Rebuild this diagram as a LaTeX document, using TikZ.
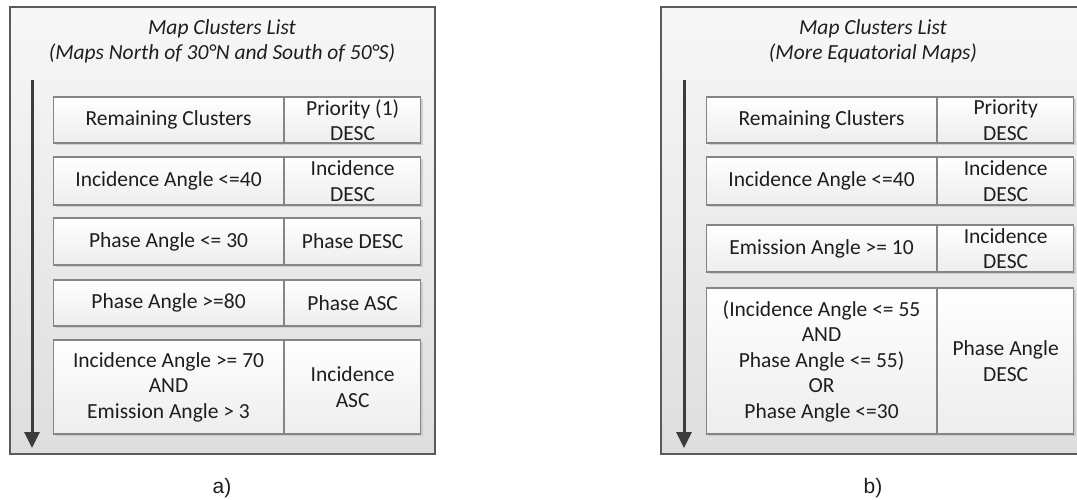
\documentclass[tikz,border=0pt]{standalone}
\usepackage{fontspec}
\setmainfont{Carlito}
\newfontfamily\capfont{Liberation Sans}
\usepackage{tikz}
\usetikzlibrary{positioning,arrows.meta,shadows}
\definecolor{txt}{HTML}{1E1E1E}
\definecolor{rim}{HTML}{858585}
\definecolor{frame}{HTML}{5A5A5A}
\definecolor{shaft}{HTML}{3C3C3C}
\newcommand\bodysize{\fontsize{21.5}{25.5}\selectfont}
\tikzset{
  panel/.style = {draw=frame, line width=1.2pt, top color=black!3,
                  bottom color=black!13, inner sep=0pt},
  cell/.style  = {draw=rim, line width=1.1pt, align=center, text=txt,
                  top color=white, bottom color=black!7, inner sep=0pt,
                  drop shadow={shadow xshift=2pt, shadow yshift=-2pt,
                  fill=black!22, opacity=.8}},
  cond/.style  = {cell, minimum width=230pt, anchor=west},
  ord/.style   = {cell, minimum width=136pt, anchor=west},
  ttl/.style   = {font=\bodysize\itshape, text=txt, align=center},
  flow/.style  = {draw=shaft, line width=3pt,
                  -{Triangle[length=16pt, width=15pt]}},
  sublbl/.style = {font=\capfont\fontsize{21}{25}\selectfont, text=txt},
}
\begin{document}
\begin{tikzpicture}[x=1pt, y=-1pt, font=\bodysize]
\clip (0,0) rectangle (1077,500);

% ===== panel a =====
\node[panel, minimum width=425pt, minimum height=447pt] (pa) at (222.5,230.5) {};
\node[ttl] (ta) at (222,41.5) {Map Clusters List\\(Maps North of 30°N and South of 50°S)};

\node[cond, minimum height=46pt] (a1) at (53,120) {Remaining Clusters};
\node[ord,  minimum height=46pt] (a1o) at (a1.east) {Priority (1)\\DESC};
\node[cond, minimum height=48pt] (a2) at (53,181) {Incidence Angle <=40};
\node[ord,  minimum height=48pt] (a2o) at (a2.east) {Incidence\\DESC};
\node[cond, minimum height=47pt] (a3) at (53,241.5) {Phase Angle <= 30};
\node[ord,  minimum height=47pt] (a3o) at (a3.east) {Phase DESC};
\node[cond, minimum height=46pt] (a4) at (53,303) {Phase Angle >=80};
\node[ord,  minimum height=46pt] (a4o) at (a4.east) {Phase ASC};
\node[cond, minimum height=94pt] (a5) at (53,387) {Incidence Angle >= 70\\AND\\Emission Angle > 3};
\node[ord,  minimum height=94pt] (a5o) at (a5.east) {Incidence\\ASC};

\coordinate (atop) at (32,80);
\coordinate (abot) at (32,448);
\draw[flow] (atop) -- (abot);
\node[sublbl] (la) at (222,488) {a)};

% ===== panel b =====
\node[panel, minimum width=424pt, minimum height=447pt] (pb) at (873,230.5) {};
\node[ttl] (tb) at (873,41.5) {Map Clusters List\\(More Equatorial Maps)};

\node[cond, minimum height=46pt] (b1) at (706,120) {Remaining Clusters};
\node[ord,  minimum height=46pt] (b1o) at (b1.east) {Priority\\DESC};
\node[cond, minimum height=48pt] (b2) at (706,181) {Incidence Angle <=40};
\node[ord,  minimum height=48pt] (b2o) at (b2.east) {Incidence\\DESC};
\node[cond, minimum height=47pt] (b3) at (706,248.5) {Emission Angle >= 10};
\node[ord,  minimum height=47pt] (b3o) at (b3.east) {Incidence\\DESC};
\node[cond, minimum height=146pt] (b4) at (706,361) {(Incidence Angle <= 55\\AND\\Phase Angle <= 55)\\OR\\Phase Angle <=30};
\node[ord,  minimum height=146pt] (b4o) at (b4.east) {Phase Angle\\DESC};

\coordinate (btop) at (684,80);
\coordinate (bbot) at (684,448);
\draw[flow] (btop) -- (bbot);
\node[sublbl] (lb) at (873,488) {b)};
\end{tikzpicture}
\end{document}
